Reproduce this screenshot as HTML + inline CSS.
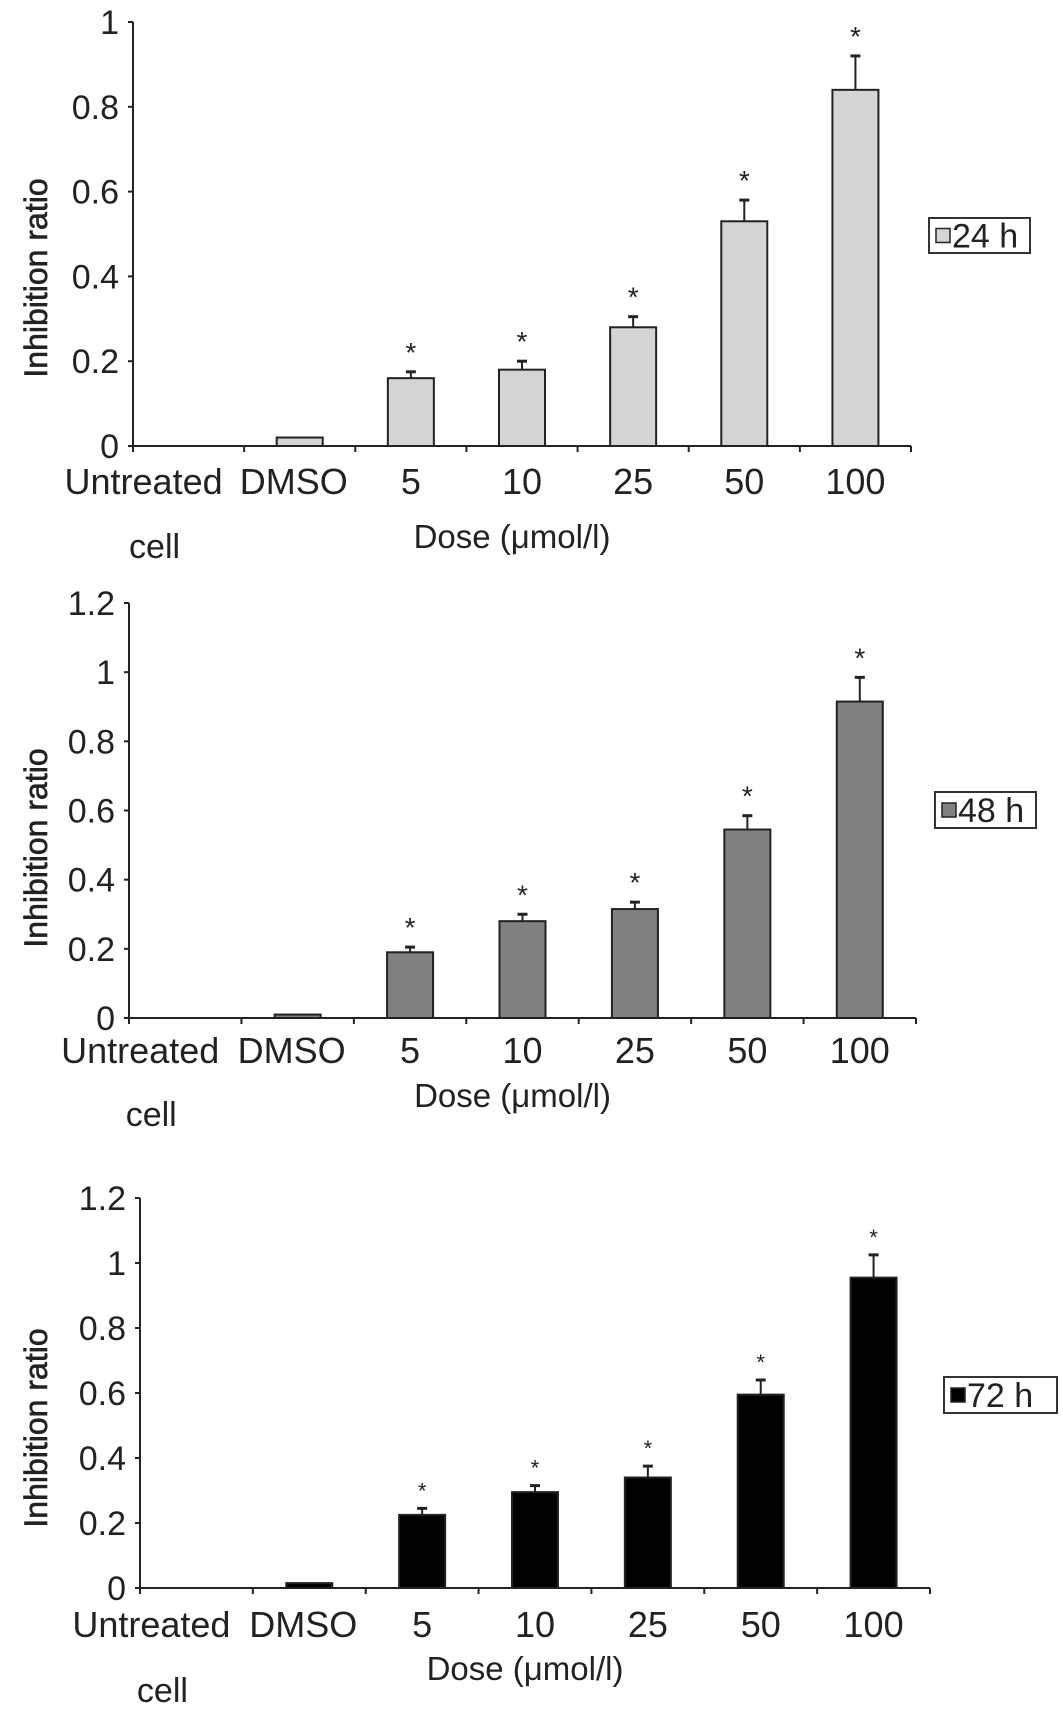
<!DOCTYPE html>
<html><head><meta charset="utf-8"><style>
body{margin:0;background:#fff}
svg{display:block;font-family:"Liberation Sans",Arial,sans-serif}
</style></head><body>
<svg id="c" width="1063" height="1710" viewBox="0 0 1063 1710"></svg>
<script>
const categories=["Untreated","DMSO","5","10","25","50","100"];
const values24=[null,0.02,0.16,0.18,0.28,0.53,0.84];
const err24=[null,0,0.015,0.02,0.025,0.05,0.08];
const values48=[null,0.01,0.19,0.28,0.315,0.545,0.915];
const err48=[null,0,0.015,0.02,0.02,0.04,0.07];
const values72=[null,0.015,0.225,0.295,0.34,0.595,0.955];
const err72=[null,0,0.02,0.02,0.035,0.045,0.07];
const stars=[false,false,true,true,true,true,true];
const ticks24=[0,0.2,0.4,0.6,0.8,1];
const ticks48=[0,0.2,0.4,0.6,0.8,1,1.2];
const ticks72=[0,0.2,0.4,0.6,0.8,1,1.2];
const legendLabels=["24 h","48 h","72 h"];

const NS="http://www.w3.org/2000/svg";
const svg=document.getElementById('c');
function mk(tag,attrs,parent,text){const e=document.createElementNS(NS,tag);for(const k in attrs)e.setAttribute(k,attrs[k]);if(text!==undefined)e.textContent=text;(parent||svg).appendChild(e);return e;}

const panels=[
 {vals:values24,errs:err24,ticks:ticks24,max:1,x0:133,x1:911,y0:446,yTop:22,fill:"#d4d4d4",label:legendLabels[0],catY:494,doseY:548,cellY:558,leg:[929,218,101,35],titleY:278},
 {vals:values48,errs:err48,ticks:ticks48,max:1.2,x0:129,x1:916,y0:1018,yTop:603,fill:"#808080",label:legendLabels[1],catY:1063,doseY:1107,cellY:1126,leg:[935,792,101,36],titleY:848},
 {vals:values72,errs:err72,ticks:ticks72,max:1.2,x0:140,x1:930,y0:1588,yTop:1198,fill:"#000",label:legendLabels[2],catY:1637,doseY:1680,cellY:1702,leg:[944,1377,113,36],titleY:1428}
];

panels.forEach((p,pi)=>{
 const g=mk('g',{});
 
 
 const yS=v=>p.y0-(v/p.max)*(p.y0-p.yTop);
 const bw=(p.x1-p.x0)/categories.length;
 const xC=i=>p.x0+bw*(i+0.5);
 const ax=mk('line',{x1:p.x0,y1:p.yTop,x2:p.x0,y2:p.y0,stroke:"#222","stroke-width":2},g);
 
 const bx=mk('line',{x1:p.x0,y1:p.y0,x2:p.x1,y2:p.y0,stroke:"#222","stroke-width":2},g);
 
 p.ticks.forEach(t=>{
  const y=yS(t);
  mk('line',{x1:p.x0-5,y1:y,x2:p.x0,y2:y,stroke:"#222","stroke-width":2},g);
  const tl=mk('text',{x:p.x0-14,y:y+12,"text-anchor":"end","font-size":34,fill:"#222"},g,String(t));
  
 });
 for(let i=0;i<=categories.length;i++){const x=p.x0+bw*i;mk('line',{x1:x,y1:p.y0,x2:x,y2:p.y0+6,stroke:"#222","stroke-width":2},g);}
 categories.forEach((c,i)=>{
  const off=i==0?-45:(i==1?-6:0);
  const cl=mk('text',{x:xC(i)+off,y:p.catY,"text-anchor":"middle","font-size":36,fill:"#222"},g,c);
  
  const v=p.vals[i];if(v==null)return;
  const w=46;
  const r=mk('rect',{x:xC(i)-w/2,y:yS(v),width:w,height:p.y0-yS(v),fill:p.fill,stroke:"#222","stroke-width":2},g);
  
  const e=p.errs[i];
  if(e>0){
   mk('line',{x1:xC(i),y1:yS(v),x2:xC(i),y2:yS(v+e),stroke:"#222","stroke-width":2},g);
   mk('line',{x1:xC(i)-5,y1:yS(v+e),x2:xC(i)+5,y2:yS(v+e),stroke:"#222","stroke-width":3},g);
  }
  if(stars[i]){
   const s=mk('text',{x:xC(i),y:yS(v+e)-10,"text-anchor":"middle","font-size":pi==2?22:28,fill:"#222"},g,"*");
   
  }
 });
 const ct=mk('text',{x:xC(0)-34,y:p.cellY,"text-anchor":"middle","font-size":34,fill:"#222"},g,"cell");
 
 const dt=mk('text',{x:(p.x0+p.x1)/2-10,y:p.doseY,"text-anchor":"middle","font-size":33,fill:"#222"},g,"Dose (\u03bcmol/l)");
 
 const yt=mk('text',{x:0,y:0,"text-anchor":"middle","font-size":32,fill:"#222","stroke":"#222","stroke-width":0.6,transform:`translate(47,${p.titleY}) rotate(-90)`},g,"Inhibition ratio");
 
 const [lx,ly,lw,lh]=p.leg;
 const lg=mk('g',{},g);
 
 mk('rect',{x:lx,y:ly,width:lw,height:lh,fill:"#fff",stroke:"#333","stroke-width":2},lg);
 mk('rect',{x:lx+7,y:ly+lh/2-7,width:14,height:14,fill:p.fill,stroke:"#222","stroke-width":1.5},lg);
 mk('text',{x:lx+23,y:ly+lh/2+12,"font-size":34,fill:"#222"},lg,p.label);
});
</script>
</body></html>
